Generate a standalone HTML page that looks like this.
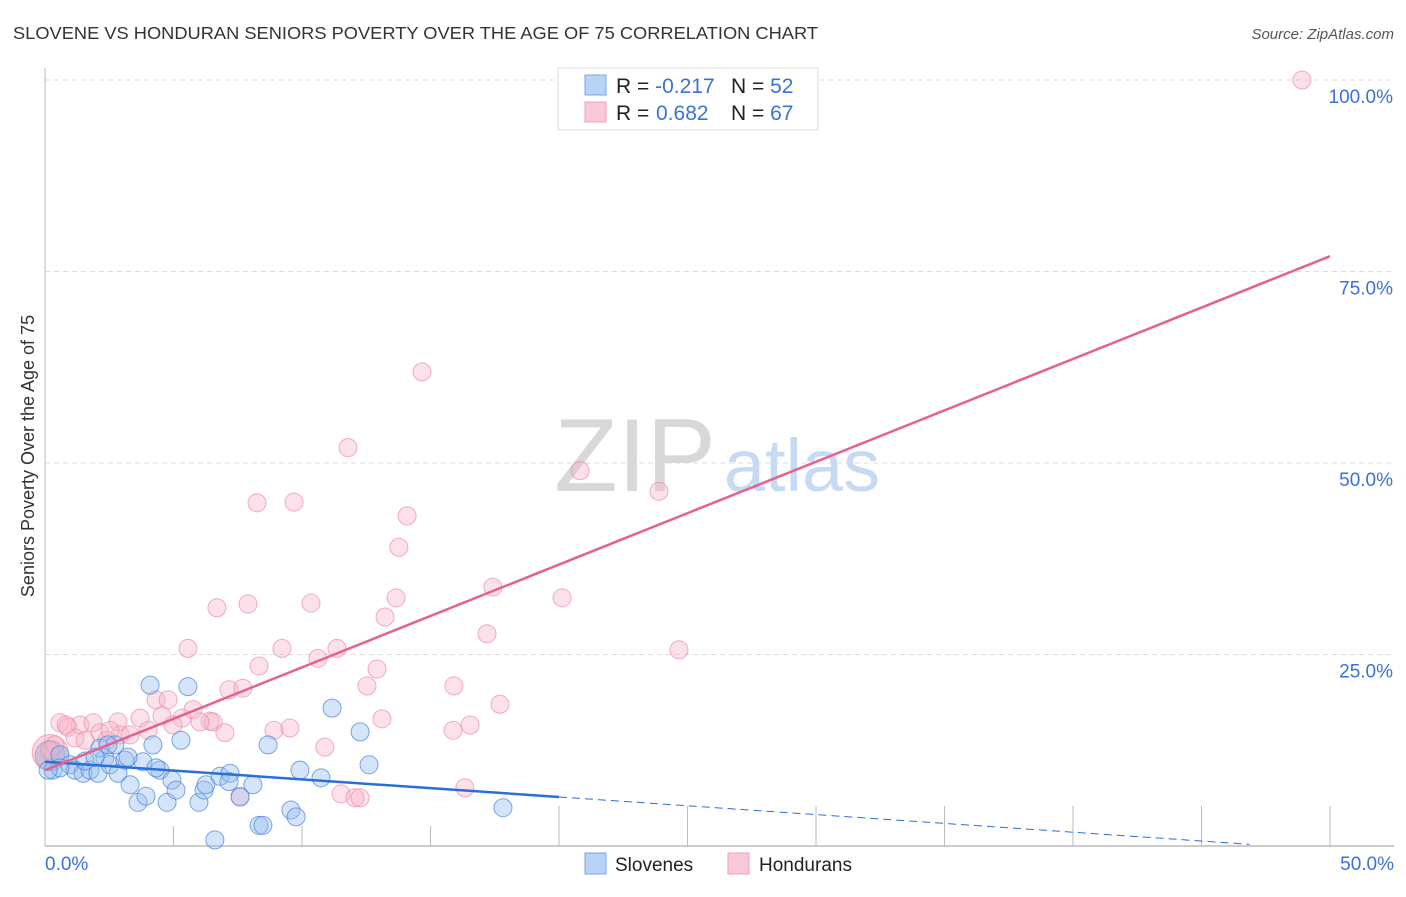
<!DOCTYPE html>
<html><head><meta charset="utf-8"><style>
body{margin:0;background:#fff;font-family:"Liberation Sans",sans-serif;}
svg text{font-family:"Liberation Sans",sans-serif;}
</style></head><body>
<svg id="chart" width="1406" height="892" xmlns="http://www.w3.org/2000/svg">
<text x="13" y="39" font-size="17.5" fill="#333" textLength="805" lengthAdjust="spacingAndGlyphs">SLOVENE VS HONDURAN SENIORS POVERTY OVER THE AGE OF 75 CORRELATION CHART</text>
<text x="1394" y="39" font-size="15" fill="#555" text-anchor="end" font-style="italic">Source: ZipAtlas.com</text>
<g id="grid"></g>
<g>
<text x="635" y="491" font-size="104" fill="#d8d8d8" text-anchor="middle" font-family="Liberation Serif, serif">ZIP</text>
<text x="802" y="491" font-size="74" fill="#c6dbf3" text-anchor="middle">atlas</text>
</g>
<text transform="translate(34,456) rotate(-90)" font-size="18" fill="#333" text-anchor="middle">Seniors Poverty Over the Age of 75</text>
<g id="axes"></g>
<g id="pts"></g>
<g id="trends"></g>
<g>
<rect x="558" y="68" width="260" height="62" fill="#fff" stroke="#ddd"/>
<rect x="585" y="75" width="21" height="20" fill="#b8d3f5" stroke="#7aa6e6"/>
<rect x="585" y="102" width="21" height="20" fill="#fac8d6" stroke="#eba0b7"/>
<text x="616" y="93" font-size="21" fill="#222">R = <tspan fill="#3a72d8">-0.217</tspan><tspan x="731">N = </tspan><tspan fill="#3a72d8">52</tspan></text>
<text x="616" y="120" font-size="21" fill="#222">R = <tspan fill="#3a72d8" x="656">0.682</tspan><tspan x="731">N = </tspan><tspan fill="#3a72d8">67</tspan></text>
</g>
<g>
<rect x="585" y="853" width="21" height="21" fill="#b8d3f5" stroke="#7aa6e6"/>
<text x="615" y="871" font-size="19" fill="#222">Slovenes</text>
<rect x="728" y="853" width="21" height="21" fill="#fac8d6" stroke="#eba0b7"/>
<text x="759" y="871" font-size="19" fill="#222">Hondurans</text>
</g>
</svg>
<script>
const blueX=[4.09,5.56,11.17,0.31,0.58,0.97,1.17,1.48,1.75,2.06,2.33,2.53,2.84,3.11,2.72,2.14,3.31,3.62,3.93,4.20,4.47,4.75,4.94,5.10,5.29,5.99,6.19,6.26,6.81,7.20,7.16,8.09,8.33,8.48,8.68,9.57,9.77,9.92,10.74,12.26,12.61,17.82,6.61,0.58,0.12,3.81,4.32,7.59,1.56,3.23,1.95,2.45];
const blueY=[21.0,20.8,18.0,9.9,11.9,10.6,9.9,9.5,9.9,9.5,11.5,10.6,9.5,11.2,13.2,12.8,8.0,5.7,6.5,13.2,9.9,5.7,8.6,7.3,13.8,5.7,7.3,8.0,9.1,9.5,8.4,8.0,2.7,2.7,13.2,4.7,3.8,9.9,8.9,14.9,10.6,5.0,0.8,10.2,9.9,11.0,10.2,6.4,11.1,11.6,11.6,13.2];
const pinkX=[48.91,14.67,11.79,20.82,23.89,8.25,9.69,14.09,13.77,17.43,20.12,13.66,6.69,7.90,10.35,13.23,17.20,5.56,9.22,11.36,10.62,24.67,8.33,12.92,7.16,7.70,12.53,15.91,4.32,4.79,17.70,5.76,13.11,4.55,5.33,6.42,0.58,0.89,1.36,1.87,2.84,3.70,4.01,4.98,6.54,6.03,7.00,8.91,9.53,16.54,15.88,10.89,2.14,2.41,2.92,3.31,2.53,1.17,7.59,11.52,12.06,12.26,16.34,0.39,1.56,0.82,0.19];
const pinkY=[100,61.9,52.0,49.0,46.3,44.8,44.9,43.1,39.0,33.8,32.4,32.4,31.1,31.6,31.7,29.9,27.7,25.8,25.8,25.8,24.5,25.6,23.5,23.1,20.4,20.6,20.9,20.9,19.1,19.1,18.5,17.8,16.6,17.0,16.7,16.3,16.1,15.5,15.8,16.1,16.2,16.7,15.1,15.8,16.2,16.2,14.8,15.1,15.4,15.8,15.1,12.9,14.8,13.8,14.5,14.5,15.1,14.1,6.5,6.8,6.3,6.3,7.6,13.2,13.8,15.8,12.5];
const blueTrend=[11.0,-0.23];
const pinkTrend=[9.9,1.342];
const yTicks=[25,50,75,100];
const yTickLabels=["25.0%","50.0%","75.0%","100.0%"];
const xTickVals=[0,5,10,15,20,25,30,35,40,45,50];
const NS="http://www.w3.org/2000/svg";
const X=v=>45+v*25.7, Y=v=>846-v*7.66;
function mk(tag,attrs,parent){const e=document.createElementNS(NS,tag);for(const k in attrs)e.setAttribute(k,attrs[k]);parent.appendChild(e);return e;}
const grid=document.getElementById('grid'),axes=document.getElementById('axes'),pts=document.getElementById('pts'),tr=document.getElementById('trends');
yTicks.forEach((t,i)=>{
 const l=mk('line',{x1:45,x2:1394,y1:Y(t),y2:Y(t),stroke:'#ddd','stroke-dasharray':'5,4'},grid);
 
 
 const tx=mk('text',{x:1393,y:Y(t)+23,'font-size':19,fill:'#3a72d8','text-anchor':'end'},axes);
 tx.textContent=yTickLabels[i];
 
 
});
mk('line',{x1:45,x2:45,y1:68,y2:846,stroke:'#bbb'},axes);
mk('line',{x1:45,x2:1394,y1:846,y2:846,stroke:'#bbb','stroke-width':1.5},axes);
xTickVals.forEach(t=>{
 const top=(t>0&&t<20)?826:806;
 const l=mk('line',{x1:X(t),x2:X(t),y1:top,y2:846,stroke:'#bbb'},axes);
 
 
});
const x0=mk('text',{x:45,y:870,'font-size':19,fill:'#3a72d8'},axes);x0.textContent="0.0%";


const x1=mk('text',{x:1394,y:870,'font-size':19,fill:'#3a72d8','text-anchor':'end'},axes);x1.textContent="50.0%";


const b1=mk('circle',{cx:X(0.2),cy:Y(12.2),r:18,fill:'rgba(244,160,185,0.45)',stroke:'rgba(230,130,160,0.6)'},pts);


const b2=mk('circle',{cx:X(0.2),cy:Y(11.8),r:15,fill:'rgba(140,150,200,0.35)',stroke:'rgba(110,140,210,0.5)'},pts);


pinkX.forEach((v,i)=>{
 const c=mk('circle',{cx:X(v),cy:Y(pinkY[i]),r:9,fill:'rgba(248,180,200,0.4)',stroke:'rgba(235,140,170,0.7)'},pts);
 
 
});
blueX.forEach((v,i)=>{
 const c=mk('circle',{cx:X(v),cy:Y(blueY[i]),r:9,fill:'rgba(150,190,240,0.4)',stroke:'rgba(70,130,220,0.7)'},pts);
 
 
});
const bl=mk('line',{x1:X(0),y1:Y(blueTrend[0]),x2:X(20),y2:Y(blueTrend[0]+blueTrend[1]*20),stroke:'#2a6fd6','stroke-width':2.5},tr);


const xe=-blueTrend[0]/blueTrend[1]*0.98;
const bd=mk('line',{x1:X(20),y1:Y(blueTrend[0]+blueTrend[1]*20),x2:X(xe),y2:Y(blueTrend[0]+blueTrend[1]*xe),stroke:'#2a6fd6','stroke-width':1,'stroke-dasharray':'8,5'},tr);


const pl=mk('line',{x1:X(0),y1:Y(pinkTrend[0]),x2:X(50),y2:Y(pinkTrend[0]+pinkTrend[1]*50),stroke:'#e8608f','stroke-width':2.5},tr);


</script>
</body></html>
